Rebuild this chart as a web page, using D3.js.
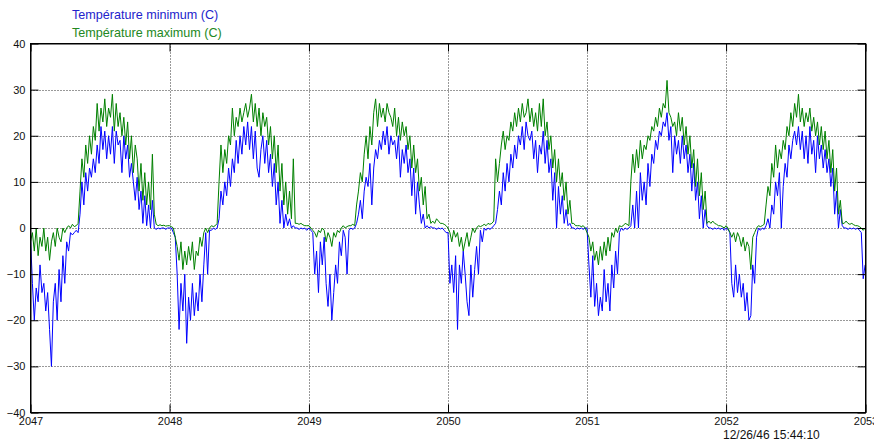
<!DOCTYPE html>
<html>
<head>
<meta charset="utf-8">
<script src="https://cdn.jsdelivr.net/npm/d3@7"></script>
<style>
  body { margin: 0; background: #fff; }
  svg text { font-family: "Liberation Sans", Arial, sans-serif; }
</style>
</head>
<body>
<div id="canvas"></div>
<script>
"use strict"

// years on the x axis, and y tick values
let years = [2047, 2048, 2049, 2050, 2051, 2052, 2053];
let yTicks = [-40, -30, -20, -10, 0, 10, 20, 30, 40];
let stepDays = 5; // one value every 5 days

// minimum temperature (C), one array per year
let tmin2047 = [-2, -12, -20, -13, -16, -8, -14, -12, -18, -14,
  -22, -30, -16, -12, -20, -9, -16, -6, -12, -3,
  -5, -1, -1.5, -1, -0.5, -1, 3, 10, 5, 12,
  8, 13, 11, 15, 12, 18, 14, 22, 17, 21,
  15, 20, 16, 22, 14, 21, 18, 19, 12, 20,
  15, 18, 11, 14, 10, 6, 11, 4, 8, 1,
  7, 0.5, 5, 0, 6, 0, -0.3, 0, -0.2, 0,
  0, -0.3, 0];
let tmin2048 = [0, 0, -1, -2, -10, -22, -12, -18, -10, -25,
  -15, -20, -12, -19, -14, -18, -10, -16, -8, -1,
  -10, -0.5, -0.5, 0, -0.3, 0, 2, 8, 5, 10,
  7, 13, 9, 15, 12, 19, 14, 20, 16, 22,
  18, 23, 17, 22, 15, 21, 13, 11, 17, 20,
  14, 19, 12, 16, 9, 14, 5, 10, 1, 6,
  0, 3, 0.5, 2, 0, 0.5, 0, 0, -0.3, 0,
  -0.2, 0, -0.5];
let tmin2049 = [0, -0.5, -1, -10, -5, -14, -3, -8, -2, -12,
  -17, -10, -20, -14, -8, -12, -3, -6, -0.5, -2,
  -10, -0.5, 0, -0.3, 0, 1, 3, 6, 2, 8,
  11, 9, 14, 5, 13, 17, 15, 19, 17, 21,
  18, 22, 16, 20, 18, 19, 15, 20, 11, 17,
  14, 18, 12, 15, 7, 13, 3, 10, 5, 1,
  3, 0, 0.5, 0, 0.3, 0, 0, -0.3, 0, -0.2,
  0, -0.5, -1];
let tmin2050 = [-1, -12, -8, -14, -6, -22, -8, -12, -5, -10,
  -16, -19, -8, -15, -9, -4, -10, -0.5, -3, 0,
  -0.5, 0, -0.3, 0, 0.5, 1, 4, 8, 5, 12,
  8, 14, 10, 16, 13, 18, 15, 20, 18, 22,
  17, 23, 20, 19, 21, 15, 19, 12, 18, 16,
  21, 14, 19, 12, 15, 6, 12, 0, 9, 3,
  7, 1, 4, 0.5, 1, 0, 0, -0.3, 0, -0.2,
  0, -0.3, 0];
let tmin2051 = [0, -8, -15, -6, -17, -12, -19, -15, -18, -9,
  -16, -12, -18, -8, -13, -5, -10, -1, 0, -0.5,
  0, -0.3, 0, 0.5, 5, 0, 8, 0, 12, 6,
  10, 5, 14, 9, 16, 14, 19, 17, 21, 20,
  23, 22, 25, 19, 22, 12, 20, 16, 19, 14,
  20, 15, 18, 12, 16, 8, 14, 6, 10, 2,
  7, 0, 4, 0.5, 0, 0, -0.3, 0, -0.2, 0,
  -0.3, 0, -0.5];
let tmin2052 = [0, -0.3, -1, -12, -15, -8, -14, -10, -15, -12,
  -18, -14, -20, -19, -8, -12, -2, 0, -0.5, 0,
  -0.3, 0.5, 2, 0, 5, 3, 10, 7, 12, 0,
  9, 14, 11, 18, 15, 19, 21, 18, 22, 17,
  21, 15, 20, 14, 22, 16, 19, 12, 20, 15,
  18, 13, 17, 12, 15, 9, 13, 3, 8, 0,
  4, 0.5, 0, 0, -0.3, 0, -0.2, 0, -0.3, 0,
  -0.5, -1, -11, -8];

// maximum temperature (C), one array per year
let tmax2047 = [-3, -1, -5, 0, -6, -2, -4, 0, -5, -2,
  -7, -3, -1, -4, 0, -2, -3, 0, -1, 0,
  0.5, 0, 0.8, 0.3, 0.5, 1, 8, 15, 11, 18,
  14, 20, 16, 22, 19, 27, 21, 26, 23, 28,
  22, 26, 24, 29, 21, 27, 22, 25, 20, 24,
  18, 23, 15, 20, 12, 18, 15, 8, 14, 6,
  12, 5, 10, 4, 16, 3, 0.8, 0.5, 0.7, 0.5,
  0.6, 0.4, 0.5];
let tmax2048 = [0.5, 0.3, 0, -2, -4, -7, -3, -9, -5, -8,
  -4, -7, -3, -9, -5, -6, -2, -4, -1, 0,
  -1, 0, 0.5, 0.3, 0.5, 1, 10, 18, 12, 17,
  14, 20, 18, 26, 20, 24, 22, 26, 23, 25,
  27, 24, 26, 29, 23, 27, 22, 26, 20, 25,
  22, 24, 18, 22, 15, 20, 12, 18, 8, 14,
  5, 10, 3, 8, 2, 15, 1, 1, 0.8, 1,
  0.7, 0.5, 0.5];
let tmax2049 = [0.5, 0, -0.5, -1, -2, -0.5, -1, 0, -0.5, -3,
  -1, -2, -4, -1, -2, -0.5, -1, 0, 0.5, 0,
  0.3, 0.5, 0.5, 0.8, 0.5, 5, 8, 12, 10, 16,
  20, 15, 22, 18, 25, 28, 22, 27, 24, 26,
  23, 27, 25, 24, 22, 26, 20, 24, 19, 23,
  20, 22, 17, 20, 13, 18, 12, 15, 8, 11,
  5, 9, 2, 3, 1, 1.5, 1, 2, 1.5, 1,
  1, 0.8, 0.5];
let tmax2050 = [0, -1, -3, -0.5, -2, -1, -4, -2, -5, -3,
  -1, -4, -2, 0, -1, 0, 0.5, 0.3, 0.5, 0.8,
  0.5, 1, 0.8, 1, 1.5, 15, 10, 14, 18, 21,
  17, 20, 19, 23, 21, 25, 22, 26, 23, 27,
  24, 25, 28, 23, 26, 22, 25, 21, 27, 22,
  28, 20, 23, 17, 20, 13, 17, 10, 15, 9,
  12, 6, 10, 3, 6, 1, 1, 0.5, 0.5, 0.5,
  0.3, 0.5, 0];
let tmax2051 = [-1, -2, -5, -3, -7, -5, -8, -4, -7, -3,
  -6, -2, -5, -1, -2, 0, -1, 0.5, 0.3, 0.5,
  1, 0.8, 0.5, 10, 16, 12, 17, 13, 19, 15,
  18, 17, 20, 19, 22, 21, 24, 22, 26, 24,
  27, 26, 32, 25, 24, 22, 23, 20, 25, 21,
  24, 18, 22, 16, 20, 13, 17, 9, 15, 7,
  12, 4, 8, 1, 1.5, 1, 1.5, 1, 0.8, 0.5,
  0.5, 0.3, 0];
let tmax2052 = [0.5, 0, -1, -2, -1, -3, -1, -2, -4, -2,
  -5, -3, -4, -9, -2, -1, 0, 0.5, 0.3, 0.5,
  0.8, 5, 9, 7, 14, 11, 18, 13, 17, 15,
  19, 17, 22, 20, 25, 22, 27, 24, 29, 23,
  26, 22, 25, 23, 26, 21, 24, 20, 23, 18,
  22, 17, 21, 15, 19, 12, 17, 8, 13, 3,
  6, 1, 1, 1.5, 1, 0.8, 1, 0.7, 0.5, 0.5,
  0.3, 0, -0.5, 0];

let tminYears = [tmin2047, tmin2048, tmin2049, tmin2050, tmin2051, tmin2052];
let tmaxYears = [tmax2047, tmax2048, tmax2049, tmax2050, tmax2051, tmax2052];

let legendLabels = ["Température minimum (C)", "Température maximum (C)"];
let stamp = "12/26/46 15:44:10";

let drawingWidth = 874;
let drawingHeight = 448;
let plotLeft = 30.5, plotRight = 865.5, plotTop = 43.5, plotBottom = 412.5;
let blue = "#0000ff";
let green = "#008000";

// turn the per-year arrays into one dated series
function toSeries(perYear) {
    let points = [];
    perYear.forEach(function (values, k) {
        values.forEach(function (v, i) {
            points.push({ date: new Date(years[k], 0, 1 + i * stepDays), value: v });
        });
    });
    return points;
}

let tminSeries = toSeries(tminYears);
let tmaxSeries = toSeries(tmaxYears);

let drawing = d3.select("#canvas")
    .append("svg")
    .attr("width", drawingWidth)
    .attr("height", drawingHeight);

drawing.append("rect")
    .attr("width", drawingWidth)
    .attr("height", drawingHeight)
    .attr("fill", "#fff");

let x = d3.scaleTime()
    .domain([new Date(years[0], 0, 1), new Date(years[years.length - 1], 0, 1)])
    .range([plotLeft, plotRight]);

let y = d3.scaleLinear()
    .domain([-40, 40])
    .range([plotBottom, plotTop]);

let yearDates = years.map(yr => new Date(yr, 0, 1));

/* dotted grid */
let grid = drawing.append("g")
    .attr("stroke", "#333")
    .attr("stroke-width", 1)
    .attr("stroke-dasharray", "1,2");

grid.selectAll(".gx")
    .data(yearDates.slice(1, -1))
    .enter().append("line")
    .attr("x1", d => Math.round(x(d)) + 0.5)
    .attr("x2", d => Math.round(x(d)) + 0.5)
    .attr("y1", plotTop)
    .attr("y2", plotBottom);

grid.selectAll(".gy")
    .data(yTicks.slice(1, -1))
    .enter().append("line")
    .attr("x1", plotLeft)
    .attr("x2", plotRight)
    .attr("y1", d => Math.round(y(d)) + 0.5)
    .attr("y2", d => Math.round(y(d)) + 0.5);

/* the two temperature lines */
let line = d3.line()
    .x(d => x(d.date))
    .y(d => y(d.value));

drawing.append("path")
    .datum(tminSeries)
    .attr("fill", "none")
    .attr("stroke", blue)
    .attr("stroke-width", 1)
    .attr("d", line);

drawing.append("path")
    .datum(tmaxSeries)
    .attr("fill", "none")
    .attr("stroke", green)
    .attr("stroke-width", 1)
    .attr("d", line);

/* axes, ticks pointing inward like the original */
let tickLen = 8;

drawing.append("g")
    .attr("transform", "translate(" + plotLeft + ",0)")
    .call(d3.axisLeft(y).tickValues(yTicks).tickSizeInner(-tickLen).tickSizeOuter(0).tickPadding(5));

drawing.append("g")
    .attr("transform", "translate(" + plotRight + ",0)")
    .call(d3.axisRight(y).tickValues(yTicks).tickSizeInner(-tickLen).tickSizeOuter(0).tickFormat(""));

drawing.append("g")
    .attr("transform", "translate(0," + plotBottom + ")")
    .call(d3.axisBottom(x).tickValues(yearDates).tickSizeInner(-tickLen).tickSizeOuter(0)
        .tickPadding(5).tickFormat(d3.timeFormat("%Y")));

drawing.append("g")
    .attr("transform", "translate(0," + plotTop + ")")
    .call(d3.axisTop(x).tickValues(yearDates).tickSizeInner(-tickLen).tickSizeOuter(0).tickFormat(""));

drawing.selectAll(".tick text")
    .attr("font-size", 11)
    .attr("font-family", "Liberation Sans, Arial, sans-serif")
    .attr("fill", "#111");

drawing.selectAll(".domain").attr("stroke", "#000");
drawing.selectAll(".tick line").attr("stroke", "#000");

/* box around the plot */
drawing.append("rect")
    .attr("x", plotLeft)
    .attr("y", plotTop)
    .attr("width", plotRight - plotLeft)
    .attr("height", plotBottom - plotTop)
    .attr("fill", "none")
    .attr("stroke", "#000");

/* legend text at the top */
drawing.selectAll(".legend")
    .data(legendLabels)
    .enter().append("text")
    .attr("x", 72)
    .attr("y", (d, i) => 19 + i * 18)
    .attr("font-size", 12.6)
    .attr("fill", (d, i) => i === 0 ? "#2222cc" : "#228822")
    .text(d => d);

/* date stamp under the axis */
drawing.append("text")
    .attr("x", 723)
    .attr("y", 439)
    .attr("font-size", 12)
    .attr("fill", "#111")
    .text(stamp);
</script>
</body>
</html>
